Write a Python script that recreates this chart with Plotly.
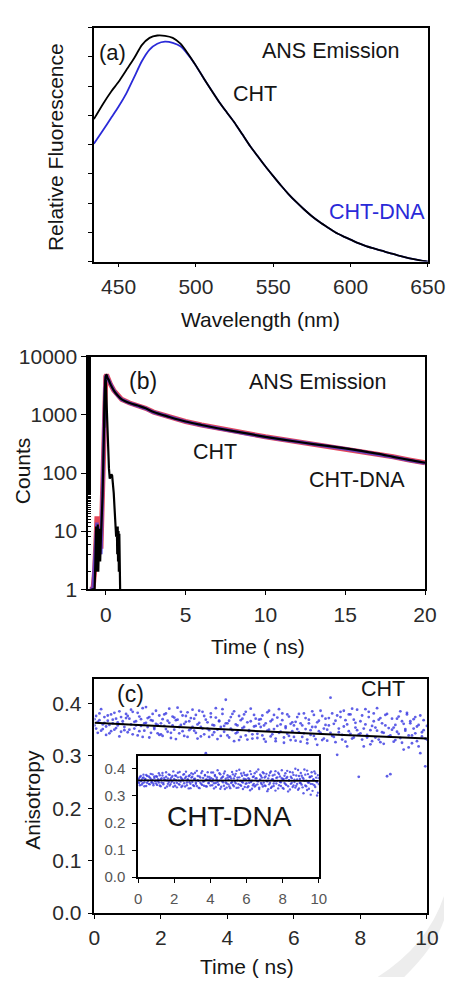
import plotly.graph_objects as go

# ---------------- Panel (a): steady-state emission ----------------
wl = [434, 440, 445, 450, 455, 460, 465, 470, 475, 480, 485, 490, 495, 500, 505, 510, 515, 520,
      525, 530, 535, 540, 545, 550, 555, 560, 565, 570, 575, 580, 585, 590, 595, 600, 605, 610,
      615, 620, 625, 630, 635, 640, 645, 650]
fl_cht = [4.87, 5.4, 5.8, 6.15, 6.55, 6.95, 7.4, 7.65, 7.73, 7.72, 7.65, 7.45, 7.1, 6.7, 6.27, 5.86,
          5.46, 5.1, 4.75, 4.35, 3.95, 3.6, 3.25, 2.92, 2.6, 2.3, 2.03, 1.78, 1.55, 1.35, 1.17, 1.0,
          0.87, 0.75, 0.63, 0.53, 0.45, 0.37, 0.3, 0.22, 0.15, 0.09, 0.04, 0.0]
fl_dna = [4.03, 4.5, 4.9, 5.3, 5.75, 6.3, 6.85, 7.25, 7.45, 7.52, 7.48, 7.36, 7.07, 6.7, 6.27, 5.86,
          5.46, 5.1, 4.75, 4.35, 3.95, 3.6, 3.25, 2.92, 2.6, 2.3, 2.03, 1.78, 1.55, 1.35, 1.17, 1.0,
          0.87, 0.75, 0.63, 0.53, 0.45, 0.37, 0.3, 0.22, 0.15, 0.09, 0.04, 0.0]
ticks_a = [450, 500, 550, 600, 650]

# ---------------- Panel (b): decay ----------------
t_dec = [-1.0, -0.8, -0.7, -0.6, -0.55, -0.5, -0.45, -0.4, -0.35, -0.3, -0.25, -0.2, -0.15, -0.1,
         -0.05, 0.0, 0.05, 0.1, 0.2, 0.3, 0.5, 0.75, 1.0, 1.5, 2, 2.5, 3, 4, 5, 6, 7, 8, 9, 10, 11,
         12, 13, 14, 15, 16, 17, 18, 19, 20]
cnt_cht = [1, 1, 2, 8, 18, 6, 14, 4, 10, 5, 20, 40, 150, 700, 2600, 4600, 4900, 4400, 3900, 3350,
           2650, 2150, 1850, 1600, 1450, 1300, 1120, 920, 770, 670, 590, 525, 470, 420, 380, 345,
           315, 290, 265, 240, 215, 190, 168, 150]
cnt_dna = [1, 1, 3, 10, 14, 5, 12, 6, 9, 4, 17, 35, 140, 680, 2550, 4550, 4850, 4380, 3870, 3330,
           2640, 2140, 1840, 1590, 1440, 1290, 1110, 915, 765, 665, 585, 520, 466, 417, 377, 342,
           312, 287, 262, 237, 213, 188, 166, 148]
t_fit = [-0.1, -0.05, 0.0, 0.05, 0.1, 0.2, 0.3, 0.5, 0.75, 1.0, 1.5, 2, 2.5, 3, 4, 5, 6, 7, 8, 9,
         10, 11, 12, 13, 14, 15, 16, 17, 18, 19, 20]
cnt_fit = [600, 2500, 4600, 4900, 4400, 3900, 3350, 2650, 2150, 1850, 1600, 1450, 1300, 1120, 920,
           770, 670, 590, 525, 470, 420, 380, 345, 315, 290, 265, 240, 215, 190, 168, 150]
t_irf = [-0.9, -0.75, -0.7, -0.65, -0.6, -0.57, -0.55, -0.52, -0.5, -0.47, -0.45, -0.42, -0.4,
         -0.37, -0.35, -0.3, -0.25, -0.2, -0.15, -0.1, -0.05, 0.0, 0.05, 0.1, 0.15, 0.2, 0.25, 0.3,
         0.35, 0.4, 0.45, 0.5, 0.55, 0.6, 0.65, 0.7, 0.72, 0.75, 0.77, 0.8, 0.82, 0.85, 0.87, 0.9]
cnt_irf = [1, 1, 1, 3, 12, 2, 10, 3, 13, 2, 9, 4, 11, 6, 3, 8, 15, 40, 180, 900, 3000, 4000, 1500,
           400, 200, 120, 80, 85, 95, 90, 70, 45, 25, 15, 8, 10, 4, 12, 3, 10, 2, 9, 1, 1]
ticks_b_y = [1, 10, 100, 1000, 10000]
ticks_b_ylab = ["1", "10", "100", "1000", "10000"]
ticks_b_x = [0, 5, 10, 15, 20]

# ---------------- Panel (c): anisotropy ----------------
t_c = [0, 0.05, 0.1, 0.15, 0.2, 0.25, 0.3, 0.35, 0.4, 0.45, 0.5, 0.55, 0.6, 0.65, 0.7, 0.75, 0.8, 0.85, 0.9, 0.95,
       1, 1.05, 1.1, 1.15, 1.2, 1.25, 1.3, 1.35, 1.4, 1.45, 1.5, 1.55, 1.6, 1.65, 1.7, 1.75, 1.8, 1.85, 1.9, 1.95,
       2, 2.05, 2.1, 2.15, 2.2, 2.25, 2.3, 2.35, 2.4, 2.45, 2.5, 2.55, 2.6, 2.65, 2.7, 2.75, 2.8, 2.85, 2.9, 2.95,
       3, 3.05, 3.1, 3.15, 3.2, 3.25, 3.3, 3.35, 3.4, 3.45, 3.5, 3.55, 3.6, 3.65, 3.7, 3.75, 3.8, 3.85, 3.9, 3.95,
       4, 4.05, 4.1, 4.15, 4.2, 4.25, 4.3, 4.35, 4.4, 4.45, 4.5, 4.55, 4.6, 4.65, 4.7, 4.75, 4.8, 4.85, 4.9, 4.95,
       5, 5.05, 5.1, 5.15, 5.2, 5.25, 5.3, 5.35, 5.4, 5.45, 5.5, 5.55, 5.6, 5.65, 5.7, 5.75, 5.8, 5.85, 5.9, 5.95,
       6, 6.05, 6.1, 6.15, 6.2, 6.25, 6.3, 6.35, 6.4, 6.45, 6.5, 6.55, 6.6, 6.65, 6.7, 6.75, 6.8, 6.85, 6.9, 6.95,
       7, 7.05, 7.1, 7.15, 7.2, 7.25, 7.3, 7.35, 7.4, 7.45, 7.5, 7.55, 7.6, 7.65, 7.7, 7.75, 7.8, 7.85, 7.9, 7.95,
       8, 8.05, 8.1, 8.15, 8.2, 8.25, 8.3, 8.35, 8.4, 8.45, 8.5, 8.55, 8.6, 8.65, 8.7, 8.75, 8.8, 8.85, 8.9, 8.95,
       9, 9.05, 9.1, 9.15, 9.2, 9.25, 9.3, 9.35, 9.4, 9.45, 9.5, 9.55, 9.6, 9.65, 9.7, 9.75, 9.8, 9.85, 9.9, 9.95, 10]

# CHT anisotropy (x 1/1000), two interleaved readings per channel
r_cht_a = [370, 352, 365, 381, 348, 360, 374, 356, 367, 343, 379, 362, 350, 371, 358, 385, 346, 366, 355, 372,
           345, 371, 360, 384, 352, 366, 339, 375, 357, 391, 348, 363, 372, 335, 368, 380, 354, 361, 343, 377,
           362, 338, 379, 351, 367, 390, 344, 358, 373, 332, 369, 355, 384, 347, 361, 376, 336, 366, 352, 388,
           371, 344, 360, 386, 337, 352, 376, 305, 364, 349, 381, 340, 358, 373, 332, 367, 355, 389, 346, 362,
           362, 335, 374, 349, 385, 343, 358, 330, 368, 353, 379, 339, 364, 347, 390, 333, 356, 371, 342, 361,
           355, 377, 332, 362, 348, 386, 337, 369, 351, 328, 373, 344, 360, 381, 335, 356, 342, 375, 330, 364,
           336, 365, 351, 380, 327, 358, 343, 372, 331, 362, 349, 385, 338, 355, 321, 367, 344, 376, 333, 359,
           350, 372, 411, 338, 361, 326, 377, 345, 384, 331, 356, 368, 318, 379, 342, 390, 335, 363, 349, 260,
           366, 331, 352, 389, 340, 374, 322, 357, 381, 335, 348, 369, 326, 362, 344, 378, 261, 353, 339, 371,
           327, 359, 346, 375, 334, 366, 312, 351, 382, 339, 362, 324, 370, 343, 356, 318, 377, 337, 349, 280, 331]
r_cht_b = [358, 376, 344, 368, 389, 351, 363, 340, 377, 359, 347, 369, 382, 353, 364, 337, 374, 361, 349, 380,
           376, 350, 388, 341, 365, 358, 382, 347, 370, 336, 362, 393, 355, 374, 344, 367, 351, 386, 359, 340,
           341, 370, 357, 381, 346, 363, 334, 375, 350, 368, 392, 343, 359, 377, 338, 365, 383, 349, 372, 355,
           348, 378, 333, 363, 355, 384, 341, 369, 352, 336, 374, 359, 345, 391, 350, 366, 338, 380, 357, 407,
           339, 367, 352, 380, 328, 360, 345, 376, 336, 371, 355, 384, 331, 349, 366, 341, 378, 357, 334, 369,
           370, 339, 358, 327, 383, 350, 366, 341, 378, 333, 357, 389, 346, 368, 325, 353, 379, 338, 361, 347,
           358, 329, 374, 345, 362, 336, 381, 351, 324, 369, 340, 355, 378, 332, 364, 347, 386, 330, 352, 371,
           329, 358, 344, 381, 336, 367, 302, 352, 374, 340, 386, 327, 360, 347, 379, 333, 369, 354, 388, 341,
           343, 377, 318, 360, 335, 384, 349, 328, 366, 354, 391, 331, 372, 345, 323, 358, 380, 337, 265, 350,
           354, 330, 371, 342, 385, 325, 361, 348, 379, 316, 366, 339, 352, 374, 328, 359, 305, 345, 368, 333, 357]
t_cht_fit = [0, 2.5, 5, 7.5, 10]
r_cht_fit = [0.363, 0.355, 0.347, 0.340, 0.333]

# CHT-DNA anisotropy (inset, x 1/1000)
r_dna_a = [361, 348, 370, 355, 342, 366, 379, 351, 363, 337, 374, 356, 345, 368, 382, 350, 359, 340, 372, 357,
           346, 371, 355, 384, 339, 362, 350, 376, 343, 367, 358, 388, 335, 365, 352, 378, 344, 369, 356, 391,
           363, 338, 375, 349, 386, 357, 342, 370, 333, 361, 379, 347, 366, 390, 340, 358, 373, 351, 329, 368,
           352, 381, 337, 364, 345, 393, 358, 331, 372, 349, 385, 341, 367, 355, 378, 336, 361, 388, 347, 370,
           339, 366, 354, 387, 328, 374, 348, 362, 395, 343, 357, 380, 334, 369, 351, 383, 326, 364, 346, 377,
           360, 335, 372, 348, 389, 341, 365, 353, 382, 330, 368, 344, 397, 356, 338, 375, 350, 386, 333, 362,
           347, 379, 336, 363, 392, 352, 327, 370, 345, 384, 339, 366, 355, 398, 331, 361, 374, 343, 388, 350,
           368, 337, 382, 354, 325, 376, 349, 391, 334, 362, 346, 379, 320, 367, 356, 386, 340, 372, 351, 395,
           330, 363, 348, 384, 341, 370, 317, 357, 389, 345, 366, 333, 378, 352, 401, 338, 361, 323, 374, 349,
           385, 342, 368, 310, 356, 379, 336, 394, 350, 327, 371, 345, 388, 319, 362, 340, 383, 355, 302, 377, 366]
r_dna_b = [352, 365, 340, 374, 358, 347, 369, 336, 361, 378, 349, 357, 372, 343, 364, 352, 380, 346, 367, 355,
           373, 341, 362, 350, 377, 336, 366, 385, 348, 359, 330, 371, 357, 345, 380, 339, 363, 352, 374, 334,
           348, 376, 358, 332, 369, 344, 389, 353, 366, 338, 357, 381, 335, 371, 350, 362, 328, 377, 345, 384,
           371, 340, 363, 386, 350, 337, 374, 356, 329, 368, 344, 392, 353, 338, 376, 360, 335, 371, 349, 362,
           356, 387, 340, 362, 347, 378, 333, 369, 352, 341, 384, 327, 365, 355, 372, 338, 391, 350, 331, 368,
           343, 371, 329, 365, 352, 380, 336, 374, 347, 393, 358, 331, 369, 341, 383, 352, 326, 364, 378, 345,
           376, 332, 366, 349, 321, 381, 357, 340, 372, 335, 365, 390, 343, 354, 326, 379, 348, 368, 335, 384,
           339, 372, 356, 318, 365, 343, 386, 330, 361, 376, 337, 355, 392, 346, 369, 328, 381, 352, 337, 366,
           361, 327, 375, 344, 366, 393, 336, 358, 324, 371, 349, 387, 339, 360, 331, 376, 345, 396, 328, 363,
           347, 375, 332, 364, 398, 339, 357, 322, 381, 350, 369, 305, 373, 344, 359, 391, 333, 368, 351, 312, 344]
t_dna_fit = [0, 10]
r_dna_fit = [0.358, 0.356]
ticks_c_y = [0.0, 0.1, 0.2, 0.3, 0.4]
ticks_c_x = [0, 2, 4, 6, 8, 10]

# ---------------- styling helpers ----------------
W, H = 462, 988
FONT = "Liberation Sans, Arial, sans-serif"
TXT = "#151515"
BLUE_LINE = "#2a2ad8"
DOT = "rgba(55,55,225,0.8)"


def px(x, y):
    return x / W, (H - y) / H


def dom_x(x0, x1):
    return [x0 / W, x1 / W]


def dom_y(ytop, ybot):
    return [(H - ybot) / H, (H - ytop) / H]


def ax(**kw):
    base = dict(showline=True, linecolor="black", linewidth=1.6, mirror=True, showgrid=False,
                zeroline=False, ticks="outside", ticklen=4, tickwidth=1.4, tickcolor="black",
                tickfont=dict(family=FONT, size=21, color="#2a2a2a"))
    base.update(kw)
    return base


fig = go.Figure()

# (a)
fig.add_trace(go.Scatter(x=wl, y=fl_dna, mode="lines", line=dict(color=BLUE_LINE, width=1.8),
                         xaxis="x", yaxis="y", line_shape="spline", line_smoothing=0.6))
fig.add_trace(go.Scatter(x=wl, y=fl_cht, mode="lines", line=dict(color="black", width=1.8),
                         xaxis="x", yaxis="y", line_shape="spline", line_smoothing=0.6))

# (b)
fig.add_trace(go.Scatter(x=t_dec, y=cnt_cht, mode="lines", line=dict(color="rgba(225,40,60,0.85)", width=5),
                         xaxis="x2", yaxis="y2"))
fig.add_trace(go.Scatter(x=t_dec, y=cnt_dna, mode="lines", line=dict(color="rgba(60,60,230,0.7)", width=3.5),
                         xaxis="x2", yaxis="y2"))
fig.add_trace(go.Scatter(x=t_irf, y=cnt_irf, mode="lines", line=dict(color="black", width=2.2),
                         xaxis="x2", yaxis="y2"))
fig.add_trace(go.Scatter(x=t_fit, y=cnt_fit, mode="lines", line=dict(color="black", width=2.2),
                         xaxis="x2", yaxis="y2", line_shape="spline"))

# (c) main
fig.add_trace(go.Scatter(x=t_c, y=[v / 1000 for v in r_cht_a], mode="markers",
                         marker=dict(color=DOT, size=2.8), xaxis="x3", yaxis="y3"))
fig.add_trace(go.Scatter(x=t_c, y=[v / 1000 for v in r_cht_b], mode="markers",
                         marker=dict(color=DOT, size=2.8), xaxis="x3", yaxis="y3"))
fig.add_trace(go.Scatter(x=t_cht_fit, y=r_cht_fit, mode="lines", line=dict(color="black", width=2),
                         xaxis="x3", yaxis="y3", line_shape="spline"))
# (c) inset
fig.add_trace(go.Scatter(x=t_c, y=[v / 1000 for v in r_dna_a], mode="markers",
                         marker=dict(color=DOT, size=2.4), xaxis="x4", yaxis="y4"))
fig.add_trace(go.Scatter(x=t_c, y=[v / 1000 for v in r_dna_b], mode="markers",
                         marker=dict(color=DOT, size=2.4), xaxis="x4", yaxis="y4"))
fig.add_trace(go.Scatter(x=t_dna_fit, y=r_dna_fit, mode="lines", line=dict(color="black", width=1.8),
                         xaxis="x4", yaxis="y4"))

layout = dict(
    width=W, height=H, margin=dict(l=0, r=0, t=0, b=0),
    paper_bgcolor="white", plot_bgcolor="white", showlegend=False,
    xaxis=ax(domain=dom_x(92.7, 445), range=[434, 650], tickvals=ticks_a, anchor="y",
             ticklabelstandoff=1),
    yaxis=ax(domain=dom_y(16, 255.5), range=[0, 8], tickvals=list(range(0, 9)),
             showticklabels=False, anchor="x"),
    xaxis2=ax(domain=dom_x(86.7, 442), range=[-1.1, 20], tickvals=ticks_b_x, anchor="y2",
              ticklabelstandoff=2),
    yaxis2=ax(domain=dom_y(353, 591), type="log", range=[0, 4], tickvals=ticks_b_y,
              ticktext=ticks_b_ylab, anchor="x2", ticklen=5,
              minor=dict(ticks="inside", ticklen=3, tickcolor="black", tickwidth=1, showgrid=False)),
    xaxis3=ax(domain=dom_x(93.3, 444), range=[0, 10], tickvals=ticks_c_x, anchor="y3",
              ticklabelstandoff=1),
    yaxis3=ax(domain=dom_y(682.7, 922.5), range=[0, 0.447], tickvals=ticks_c_y,
              tickformat=".1f", anchor="x3", ticklen=5, ticklabelstandoff=2),
    xaxis4=ax(domain=dom_x(139.3, 330), range=[0, 10], tickvals=ticks_c_x, anchor="y4",
              tickfont=dict(family=FONT, size=15, color="#555"), ticklabelstandoff=3),
    yaxis4=ax(domain=dom_y(762, 885.7), range=[0, 0.447], tickvals=ticks_c_y,
              tickformat=".1f", anchor="x4", ticklabelstandoff=4,
              tickfont=dict(family=FONT, size=15, color="#555")),
)
fig.update_layout(**layout)


def note(x, y, text, size=21, color=TXT, angle=0):
    xp, yp = px(x, y)
    fig.add_annotation(x=xp, y=yp, xref="paper", yref="paper", text=text, showarrow=False,
                       textangle=angle, xanchor="center", yanchor="middle",
                       font=dict(family=FONT, size=size, color=color))


# panel (a) texts
note(112, 41, "(a)", 22)
note(342, 40, "ANS Emission", 21.5)
note(263, 84, "CHT", 21.5)
note(391, 205, "CHT-DNA", 21.5, color="#2a2ad8")
note(52, 138, "Relative Fluorescence", 21, angle=-90)
note(268, 315, "Wavelength (nm)", 21)
# panel (b) texts
note(145, 378, "(b)", 23)
note(329, 379, "ANS Emission", 21.5)
note(220, 450, "CHT", 21.5)
note(370, 479, "CHT-DNA", 21.5)
note(17, 470, "Counts", 21, angle=-90)
note(266, 650, "Time ( ns)", 21)
# panel (c) texts
note(131, 698, "(c)", 23)
note(398, 693, "CHT", 21.5)
note(236, 824, "CHT-DNA", 28)
note(28, 807, "Anisotropy", 21, angle=-90)
note(254, 977, "Time ( ns)", 21)

# faint watermark arc in the lower right corner
pts = [(462, 905), (445, 955), (392, 988), (420, 988), (452, 958), (462, 930)]
p = [px(*q) for q in pts]
path = (f"M {p[0][0]},{p[0][1]} Q {p[1][0]},{p[1][1]} {p[2][0]},{p[2][1]} "
        f"L {p[3][0]},{p[3][1]} Q {p[4][0]},{p[4][1]} {p[5][0]},{p[5][1]} Z")
fig.add_shape(type="path", path=path, xref="paper", yref="paper", fillcolor="#ededed",
              line=dict(width=0), layer="below")

fig.write_html("out.html")
